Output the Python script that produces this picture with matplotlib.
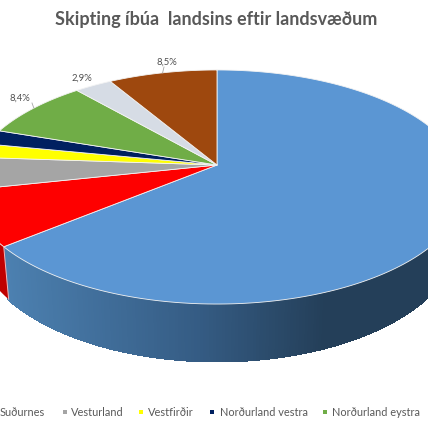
import numpy as np
import matplotlib
matplotlib.use("Agg")
import matplotlib.pyplot as plt
from matplotlib.patches import Polygon, Rectangle

title = "Skipting íbúa  landsins eftir landsvæðum"
regions = ["Höfuðborgarsvæði", "Suðurnes", "Vesturland", "Vestfirðir", "Norðurland vestra",
           "Norðurland eystra", "Austurland", "Suðurland"]
shares = [64.0, 7.6, 4.5, 2.0, 2.1, 8.4, 2.9, 8.5]
colors = ["#5B96D3", "#FE0000", "#A5A5A5", "#FFFF00", "#002060", "#70AD47", "#D6DCE5", "#9E480E"]
side_dark = "#C00000"
labelled = {"Norðurland eystra": (20, 98, (32, 103)), "Austurland": (82, 78, None), "Suðurland": (167, 62, (164, 67))}
legend_items = [("Suðurnes", None, 0), ("Vesturland", 65, 71), ("Vestfirðir", 141, 148),
                ("Norðurland vestra", 212, 220), ("Norðurland eystra", 325, 332)]

plt.rcParams["font.family"] = ["Lato", "DejaVu Sans"]
fig = plt.figure(figsize=(4.28, 4.28), dpi=100)
ax = fig.add_axes([0, 0, 1, 1])
ax.set_xlim(0, 428); ax.set_ylim(428, 0); ax.axis("off")

CX, CY, W, H, K = 217, 165, 243.6, 112.9, 0.188

def top(t):
    s, c = np.sin(t), np.cos(t)
    return CX + W * s / (1 + K * c), CY - H * c / (1 + K * c)

def bottom(t):
    x, y = top(t)
    return CX + (x - CX) * 0.977, 211 + (y - CY) * 1.08

vals = np.array(shares)
edges = np.concatenate([[0], np.cumsum(vals)]) / vals.sum() * 2 * np.pi
by_name = dict(zip(regions, range(len(regions))))

def arc(a, b, n=200):
    return np.linspace(a, b, n)

# Side wall: only the front part of the rim (lower half) is visible
a0, a1 = edges[0], edges[1]
ts = arc(np.pi / 2 - 0.3, a1, 260)
blue_left = np.array([0x4C, 0x80, 0xB0]); blue_mid = np.array([0x35, 0x5C, 0x84]); blue_right = np.array([0x24, 0x3F, 0x59])
for i in range(len(ts) - 1):
    q = ts[i:i + 2]
    xt, yt = top(q); xb, yb = bottom(q)
    xm = xt.mean()
    f = np.clip((xm - 4) / 320, 0, 1)
    col = blue_left + (blue_mid - blue_left) * f / .6 if f < .6 else blue_mid + (blue_right - blue_mid) * (f - .6) / .4
    ax.add_patch(Polygon(np.c_[np.r_[xt, xb[::-1]], np.r_[yt, yb[::-1]]], fc=col / 255, ec=col / 255, lw=1.2, antialiased=False))
# wall of the next wedge, at the left edge
q = arc(edges[1], edges[2], 60)
xt, yt = top(q); xb, yb = bottom(q)
ax.add_patch(Polygon(np.c_[np.r_[xt, xb[::-1]], np.r_[yt, yb[::-1]]], fc=side_dark, ec="none"))
x1, y1 = top(a1); x2, y2 = bottom(a1)
ax.plot([x1, x2], [y1, y2], color="#F4B6B6", lw=0.7)

# Top face
for i, col in enumerate(colors):
    q = arc(edges[i], edges[i + 1], 200)
    x, y = top(q)
    ax.add_patch(Polygon(np.c_[np.r_[CX, x], np.r_[CY, y]], fc=col, ec="#F3F3F3", lw=0.6, joinstyle="round"))

# Labels with leaders
for name, (lx, ly, start) in labelled.items():
    i = by_name[name]
    ax.text(lx, ly, f"{shares[i]:.1f}%".replace(".", ","), ha="center", va="center", fontsize=6.8, color="#505050")
    if start is not None:
        rx, ry = top((edges[i] + edges[i + 1]) / 2)
        ax.plot([start[0], rx], [start[1], ry], color="#A6A6A6", lw=0.6)

ax.text(216.5, 19, title, ha="center", va="center", fontsize=13, fontweight="bold", color="#595959")

for name, sx, tx in legend_items:
    if sx is not None:
        ax.add_patch(Rectangle((sx - 2, 409.5), 4.5, 4.5, fc=colors[by_name[name]], ec="none"))
    ax.text(tx, 412, name, ha="left", va="center", fontsize=7.9, color="#595959")

fig.savefig("out.png", dpi=100)
